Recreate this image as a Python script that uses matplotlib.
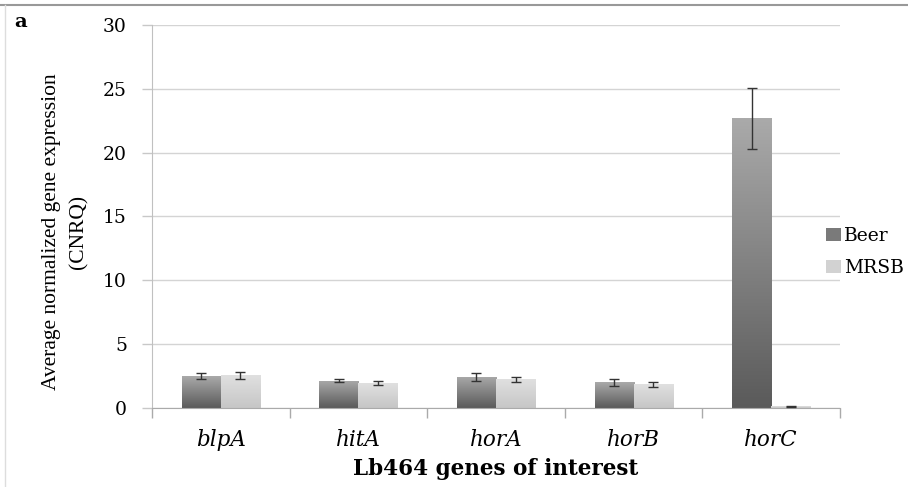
import numpy as np
import matplotlib
matplotlib.use("Agg")
import matplotlib.pyplot as plt
from matplotlib.colors import LinearSegmentedColormap
from matplotlib.patches import Patch
from matplotlib.lines import Line2D

genes = ["blpA", "hitA", "horA", "horB", "horC"]
beer = [2.5, 2.15, 2.45, 2.0, 22.7]
beer_err = [0.25, 0.15, 0.3, 0.27, 2.4]
mrsb = [2.55, 1.95, 2.25, 1.85, 0.15]
mrsb_err = [0.28, 0.15, 0.2, 0.18, 0.04]
series_names = ["Beer", "MRSB"]
yticks = [0, 5, 10, 15, 20, 25, 30]

fig = plt.figure(figsize=(9.08, 4.87), dpi=100)
ax = fig.add_axes([152/908, 1-408/487, (840-152)/908, (408-25)/487])

x = np.arange(len(genes))
w = 0.284
beer_cmap = LinearSegmentedColormap.from_list("b", ["#5a5a5a", "#aaaaaa"])
mrsb_cmap = LinearSegmentedColormap.from_list("m", ["#c6c6c6", "#e0e0e0"])
grad = np.linspace(0, 1, 256).reshape(-1, 1)

def grad_bars(xs, vals, cmap, z=2):
    bars = ax.bar(xs, vals, width=w, color="none", edgecolor="none", zorder=z)
    for b in bars:
        x0, y0 = b.get_x(), b.get_y()
        im = ax.imshow(grad, extent=[x0, x0 + b.get_width(), y0, y0 + b.get_height()],
                       origin="lower", aspect="auto", cmap=cmap, zorder=z)
        im.set_clip_path(b)
    return bars

grad_bars(x - w/2, beer, beer_cmap)
grad_bars(x + w/2, mrsb, mrsb_cmap)
ax.errorbar(x - w/2, beer, yerr=beer_err, fmt="none", ecolor="#333333",
            elinewidth=1.0, capsize=3.5, capthick=1.0, zorder=4)
ax.errorbar(x + w/2, mrsb, yerr=mrsb_err, fmt="none", ecolor="#333333",
            elinewidth=1.0, capsize=3.5, capthick=1.0, zorder=4)

ax.set_xlim(-0.5, len(genes) - 0.5)
ax.set_ylim(0, 30)
ax.set_yticks(yticks)
ax.yaxis.grid(True, color="#d4d4d4", linewidth=1.0)
ax.set_axisbelow(True)
ax.set_xticks(np.arange(len(genes) + 1) - 0.5, minor=False)
ax.set_xticklabels([])
ax.set_xticks(x, minor=True)
ax.set_xticklabels(genes, minor=True, fontstyle="italic", fontsize=15.5,
                   family="DejaVu Serif")
ax.tick_params(axis="x", which="minor", length=0, pad=15)
ax.tick_params(axis="x", which="major", length=7, color="#aaaaaa", width=1)
ax.tick_params(axis="y", length=7, color="#c8c8c8", width=1, labelsize=13.5, pad=11)
for lab in ax.get_yticklabels():
    lab.set_family("DejaVu Serif")

for s in ["top", "right"]:
    ax.spines[s].set_visible(False)
ax.spines["left"].set_color("#c0c0c0")
ax.spines["bottom"].set_color("#aaaaaa")

ax.set_xlabel("Lb464 genes of interest", fontsize=15.5, fontweight="bold",
              family="DejaVu Serif", labelpad=5)
fig.text(65/908, 1-232/487, "Average normalized gene expression\n(CNRQ)",
         rotation=90, ha="center", va="center", ma="center", fontsize=15.5,
         family="Liberation Serif", linespacing=1.6)

handles = [Patch(facecolor="#7a7a7a", edgecolor="none"),
           Patch(facecolor="#d2d2d2", edgecolor="none")]
fig.legend(handles, series_names, loc="upper left",
           bbox_to_anchor=(826/908, 1-227/487), borderpad=0, borderaxespad=0,
           frameon=False, prop={"family": "DejaVu Serif", "size": 13.5},
           handlelength=0.8, handleheight=0.7, handletextpad=0.15,
           labelspacing=0.75)

fig.text(14/908, 1-22/487, "a", fontsize=14, fontweight="bold",
         family="DejaVu Serif", va="center", ha="left")

# frame border of the cropped figure
fig.add_artist(Line2D([0, 1], [1-4.5/487, 1-4.5/487], color="#999999", lw=1.5,
                      transform=fig.transFigure))
fig.add_artist(Line2D([5/908, 5/908], [0, 1-4.5/487], color="#dddddd", lw=1,
                      transform=fig.transFigure))

fig.savefig("out.png", dpi=100)
